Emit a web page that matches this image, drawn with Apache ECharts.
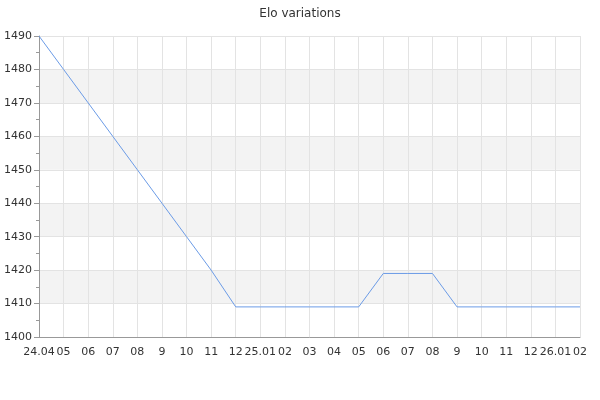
<!DOCTYPE html>
<html><head><meta charset="utf-8">
<script src="https://cdn.jsdelivr.net/npm/echarts@6/dist/echarts.min.js"></script>
<style>html,body{margin:0;padding:0;background:#fff}#c{width:600px;height:400px}</style>
</head><body><div id="c"></div>
<script>
const months = ['24.04','05','06','07','08','9','10','11','12','25.01','02','03','04','05','06','07','08','9','10','11','12','26.01','02'];
const elo = [1490,1480,1470,1460,1450,1440,1430,1420,1409,1409,1409,1409,1409,1409,1419,1419,1419,1409,1409,1409,1409,1409,1409];
const chart = echarts.init(document.getElementById('c'), null, {renderer:'canvas'});
const font = 'DejaVu Sans';
chart.setOption({
  animation:false,
  backgroundColor:'#fff',
  title:{text:'Elo variations', left:'center', top:3, textStyle:{fontFamily:font, fontSize:12, fontWeight:'normal', color:'#333'}},
  grid:{left:39, right:20, top:36, bottom:63, containLabel:false},
  xAxis:{type:'category', data:months, boundaryGap:false,
    axisLine:{show:true, lineStyle:{color:'#999', width:1}},
    axisTick:{show:false},
    axisLabel:{fontFamily:font, fontSize:11, color:'#333', margin:10, interval:0},
    splitLine:{show:true, lineStyle:{color:'#e3e3e3', width:1}}
  },
  yAxis:{type:'value', min:1400, max:1490, interval:10,
    axisLine:{show:true, lineStyle:{color:'#999', width:1}},
    axisTick:{show:true, length:5, lineStyle:{color:'#999'}},
    minorTick:{show:true, splitNumber:2, length:3, lineStyle:{color:'#999'}},
    axisLabel:{fontFamily:font, fontSize:11, color:'#333', margin:7, formatter:function(v){return String(v);}},
    splitLine:{show:true, lineStyle:{color:'#e3e3e3', width:1}},
    splitArea:{show:true, areaStyle:{color:['#ffffff','#f3f3f3']}}
  },
  series:[{type:'line', data:elo, showSymbol:false, symbol:'none',
    lineStyle:{color:'#6b9be6', width:1}}]
});
</script></body></html>
